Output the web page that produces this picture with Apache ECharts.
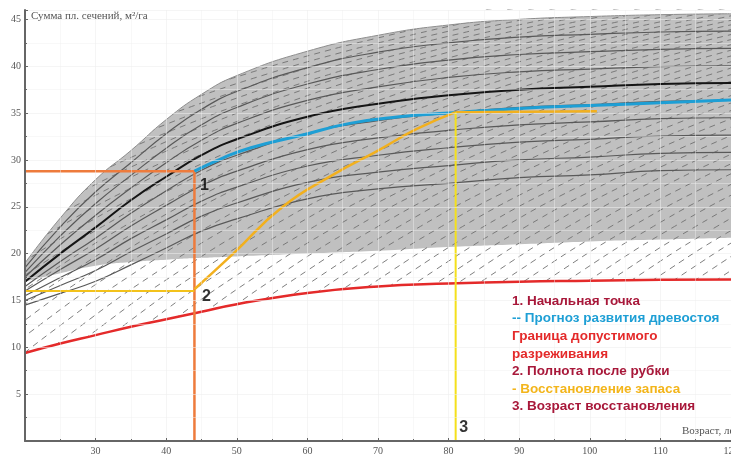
<!DOCTYPE html>
<html>
<head>
<meta charset="utf-8">
<script src="https://cdn.jsdelivr.net/npm/echarts@6/dist/echarts.min.js"></script>
<style>
  body { margin: 0; background: #fff; }
  #chart { width: 731px; height: 455px; }
</style>
</head>
<body>
<div id="chart"></div>
<script>
const ages = [20, 25, 30, 35, 40, 45, 50, 60, 70, 80, 90, 100, 110, 120];

// upper / lower edge of the grey band
const upperVals = [19.0, 23.8, 27.9, 31.0, 34.3, 37.0, 39.0, 41.6, 43.3, 44.4, 45.0, 45.3, 45.5, 45.6];
const bandLowVals = [17.0, 17.9, 18.7, 19.1, 19.35, 19.55, 19.7, 20.0, 20.3, 20.7, 21.0, 21.3, 21.5, 21.7];

// thick black curve and the thin solid curves around it
const blackVals = [17.0, 20.0, 22.8, 25.7, 28.2, 30.5, 32.2, 34.6, 36.0, 36.9, 37.5, 37.8, 38.1, 38.2];
const curveA1 = [17.5, 20.95, 24.1, 27.0, 29.7, 32.1, 33.9, 36.35, 37.8, 38.8, 39.4, 39.7, 39.95, 40.05];
const curveA2 = [18.0, 21.9, 25.35, 28.35, 31.25, 33.75, 35.6, 38.1, 39.65, 40.65, 41.25, 41.55, 41.8, 41.9];
const curveA3 = [18.5, 22.85, 26.6, 29.7, 32.8, 35.4, 37.3, 39.85, 41.5, 42.5, 43.1, 43.4, 43.65, 43.75];
const curveB1 = [16.5, 19.15, 21.65, 24.3, 26.7, 28.9, 30.5, 32.85, 34.2, 35.0, 35.6, 35.9, 36.25, 36.35];
const curveB2 = [16.0, 18.3, 20.5, 22.95, 25.15, 27.25, 28.8, 31.1, 32.35, 33.15, 33.75, 34.05, 34.4, 34.5];
const curveB3 = [15.5, 17.45, 19.35, 21.6, 23.6, 25.6, 27.1, 29.35, 30.5, 31.3, 31.9, 32.2, 32.55, 32.65];
const curveB4 = [15.0, 16.6, 18.2, 20.2, 22.1, 24.0, 25.4, 27.6, 28.7, 29.4, 30.0, 30.3, 30.7, 30.8];
const curveB5 = [14.5, 15.75, 17.05, 18.8, 20.6, 22.4, 23.7, 25.85, 26.9, 27.5, 28.1, 28.4, 28.85, 28.95];

// red limit line
const redVals = [9.4, 10.4, 11.3, 12.2, 13.0, 13.8, 14.6, 15.8, 16.5, 16.8, 17.0, 17.1, 17.2, 17.25];

// dashed recovery curves: one shape, drawn at several start ages
const dashT = [0, 10, 20, 30, 40, 50, 60, 70, 80, 90, 100, 110, 120, 130, 140];
const dashW = [0, 6.9, 12.9, 18.2, 22.9, 27.0, 30.6, 33.8, 36.6, 39.1, 41.3, 43.2, 44.9, 46.4, 47.7];
const dashShift = [-42, -39, -36, -33, -30, -27, -24, -21, -18, -15, -12, -9, -6, -3, 0, 3, 6, 9,
  12, 15, 18, 21, 24, 27, 30, 33, 36, 39, 42, 45, 48, 51, 54, 57, 60, 63, 66, 69, 72, 75, 78, 81,
  84, 87, 90, 93];

// forecast (blue) and recovery (yellow) paths
const blueAges = [44, 48, 52, 59, 66, 73, 80, 90, 100, 110, 120];
const blueVals = [28.8, 30.2, 31.3, 32.6, 33.9, 34.6, 35.0, 35.5, 35.8, 36.1, 36.4];
const yellowAges = [44, 49.5, 56.5, 63.6, 70, 75.5, 81];
const yellowVals = [16.2, 20, 25, 28.4, 31, 33.3, 35.1];
const startAge = 44, startVal = 28.8, afterCutVal = 16.0;
const recoverAge = 81, recoverVal = 35.1, plateauEndAge = 101, plateauEndVal = 35.2;

const pointLabels = ['1', '2', '3'];
const legendLines = [
  ['1. Начальная точка', '#a8183a'],
  ['-- Прогноз развития древостоя', '#1e9fd5'],
  ['Граница допустимого', '#e42a2a'],
  ['разреживания', '#e42a2a'],
  ['2. Полнота после рубки', '#a8183a'],
  ['- Восстановление запаса', '#f3b51b'],
  ['3. Возраст восстановления', '#a8183a']
];

const pts = (xs, ys) => xs.map((x, i) => [x, ys[i]]);
const curve = { smooth: 0.5, symbol: 'none' };

const series = [];
// grey band
series.push(Object.assign({ type: 'line', z: 1, data: pts(ages, upperVals),
  lineStyle: { width: 0 }, areaStyle: { color: '#c0c0c0', opacity: 1, origin: 'start' } }, curve));
series.push(Object.assign({ type: 'line', z: 2, data: pts(ages, bandLowVals),
  lineStyle: { width: 0 }, areaStyle: { color: '#ffffff', opacity: 1, origin: 'start' } }, curve));
// dashed family
dashShift.forEach(s => {
  series.push(Object.assign({ type: 'line', z: 3, silent: true,
    data: dashT.map((t, i) => [t + s, dashW[i]]),
    lineStyle: { color: '#707070', width: 0.9, type: [6, 5] } }, curve));
});
// white masks above the band and under the red line
series.push(Object.assign({ type: 'line', z: 4, data: pts(ages, upperVals),
  lineStyle: { width: 0 }, areaStyle: { color: '#ffffff', opacity: 1, origin: 'end' } }, curve));
series.push(Object.assign({ type: 'line', z: 4, data: pts(ages, redVals),
  lineStyle: { width: 0 }, areaStyle: { color: '#ffffff', opacity: 1, origin: 'start' } }, curve));
// band edge and thin solid curves
series.push(Object.assign({ type: 'line', z: 5, data: pts(ages, upperVals),
  lineStyle: { color: '#8c8c8c', width: 1 } }, curve));
[curveA1, curveA2, curveA3, curveB1, curveB2, curveB3, curveB4, curveB5].forEach(c => {
  series.push(Object.assign({ type: 'line', z: 5, data: pts(ages, c),
    lineStyle: { color: '#595959', width: 1.2 } }, curve));
});
series.push(Object.assign({ type: 'line', z: 6, data: pts(ages, blackVals),
  lineStyle: { color: '#151515', width: 2 } }, curve));
series.push(Object.assign({ type: 'line', z: 6, data: pts(ages, redVals),
  lineStyle: { color: '#e42a2a', width: 2.5 } }, curve));
// orange start marker
series.push({ type: 'line', z: 7, symbol: 'none',
  data: [[ages[0], startVal], [startAge, startVal], [startAge, 0]],
  lineStyle: { color: '#ee7b3c', width: 2.5 } });
series.push(Object.assign({ type: 'line', z: 7, data: pts(blueAges, blueVals),
  lineStyle: { color: '#1e9fd5', width: 3 } }, curve));
series.push({ type: 'line', z: 7, symbol: 'none',
  data: [[ages[0], afterCutVal], [startAge, afterCutVal]],
  lineStyle: { color: '#f3c21b', width: 2 } });
series.push(Object.assign({ type: 'line', z: 7, data: pts(yellowAges, yellowVals),
  lineStyle: { color: '#f2b01e', width: 2.5 } }, curve));
series.push({ type: 'line', z: 7, symbol: 'none',
  data: [[recoverAge, recoverVal], [plateauEndAge, plateauEndVal]],
  lineStyle: { color: '#f2b01e', width: 2.5 } });
series.push({ type: 'line', z: 7, symbol: 'none',
  data: [[recoverAge, recoverVal], [recoverAge, 0]],
  lineStyle: { color: '#f4e01c', width: 2 } });
// point numbers
const labelOffsets = [[10, 14], [12, 6], [8, -13]];
series.push({ type: 'scatter', z: 20, symbolSize: 1, itemStyle: { color: 'transparent' },
  data: [[startAge, startVal], [startAge, afterCutVal], [recoverAge, 0]],
  label: { show: true, position: 'inside', textBorderWidth: 0, textBorderColor: 'transparent',
    formatter: p => pointLabels[p.dataIndex],
    fontFamily: 'Liberation Sans', fontWeight: 'bold', fontSize: 16, color: '#000' },
  labelLayout: p => ({ dx: labelOffsets[p.dataIndex][0], dy: labelOffsets[p.dataIndex][1] }) });

const graphic = legendLines.map((l, i) => ({
  type: 'text', left: 512, top: 294 + i * 17.6, z: 100,
  style: { text: l[0], fill: l[1], font: 'bold 13.5px "Liberation Sans"' }
}));
graphic.push({ type: 'text', left: 31, top: 11, z: 100,
  style: { text: 'Сумма пл. сечений, м²/га', fill: '#555', font: '11px "Liberation Serif"' } });
graphic.push({ type: 'text', left: 682, top: 426, z: 100,
  style: { text: 'Возраст, лет', fill: '#555', font: '11px "Liberation Serif"' } });

const gridLine = { show: true, lineStyle: { color: 'rgba(236,236,236,0.55)', width: 1 } };
const minorLine = { show: true, lineStyle: { color: 'rgba(240,240,240,0.45)', width: 1 } };

const chart = echarts.init(document.getElementById('chart'));
chart.setOption({
  animation: false,
  backgroundColor: '#fff',
  grid: { left: 25, right: 0, top: 10, bottom: 14, containLabel: false, outerBoundsMode: 'none' },
  xAxis: {
    type: 'value', min: 20, max: 120, interval: 10, z: 10,
    axisLine: { lineStyle: { color: '#666', width: 2 } },
    axisTick: { show: true, inside: true, length: 3, lineStyle: { color: '#666' } },
    minorTick: { show: true, splitNumber: 2, length: 2, lineStyle: { color: '#666' } },
    axisLabel: { fontFamily: 'Liberation Serif', fontSize: 10, color: '#555', margin: 5,
      formatter: v => (v === 20 ? '' : v) },
    splitLine: gridLine,
    minorSplitLine: minorLine
  },
  yAxis: {
    type: 'value', min: 0, max: 46, interval: 5, z: 10,
    axisLine: { show: true, lineStyle: { color: '#666', width: 2 } },
    axisTick: { show: true, inside: true, length: 3, lineStyle: { color: '#666' } },
    minorTick: { show: true, splitNumber: 2, length: 2, lineStyle: { color: '#666' } },
    axisLabel: { fontFamily: 'Liberation Serif', fontSize: 10, color: '#555', margin: 4,
      showMaxLabel: false, formatter: v => (v === 0 ? '' : v) },
    splitLine: gridLine,
    minorSplitLine: minorLine
  },
  graphic: graphic,
  series: series
});
</script>
</body>
</html>
